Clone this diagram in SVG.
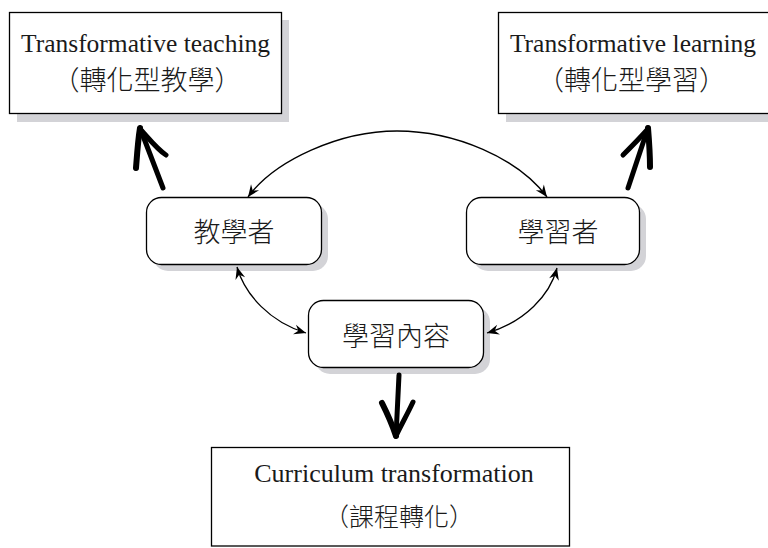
<svg xmlns="http://www.w3.org/2000/svg" width="768" height="548" viewBox="0 0 768 548">
  <style>
    .box { fill: #ffffff; stroke: #000000; stroke-width: 1.3; }
    .shadow { fill: #d3d3d7; stroke: none; }
    .en { font-family: "Liberation Serif", "Times New Roman", serif; font-size: 25.5px; fill: #1a1a1a; text-anchor: middle; }
    .zh { font-family: "Noto Sans CJK TC", "Noto Sans CJK SC", sans-serif; font-size: 27px; font-weight: 300; fill: #1a1a1a; text-anchor: middle; dominant-baseline: central; }
    .thin { fill: none; stroke: #000000; stroke-width: 1.3; marker-start: url(#ah); marker-end: url(#ah); }
    .thick { fill: none; stroke: #000000; stroke-width: 5; stroke-linecap: round; stroke-linejoin: round; }
  </style>
  <defs>
    <marker id="ah" viewBox="-13 -6 14 12" refX="0" refY="0" markerWidth="14" markerHeight="12" markerUnits="userSpaceOnUse" orient="auto-start-reverse">
      <path d="M0,0 L-12,-5 L-8,0 L-12,5 Z" fill="#000000"/>
    </marker>
  </defs>

  <rect width="768" height="548" fill="#ffffff"/>

  <g id="transformative-teaching">
    <rect class="shadow" x="17" y="20" width="272" height="102"/>
    <rect class="box" x="9.5" y="12.5" width="272" height="101"/>
    <text class="en" x="145.5" y="52">Transformative teaching</text>
    <text class="zh" x="147" y="78.5">（轉化型教學）</text>
  </g>

  <g id="transformative-learning">
    <rect class="shadow" x="506" y="20" width="270" height="102"/>
    <rect class="box" x="498.5" y="12.5" width="272" height="101"/>
    <text class="en" x="633" y="52">Transformative learning</text>
    <text class="zh" x="631.5" y="78.5">（轉化型學習）</text>
  </g>

  <g id="teacher">
    <rect class="shadow" x="153" y="204" width="175" height="67" rx="15"/>
    <rect class="box" x="146.5" y="197.5" width="175" height="67" rx="15"/>
    <text class="zh" x="234" y="230">教學者</text>
  </g>

  <g id="learner">
    <rect class="shadow" x="473" y="204" width="173" height="67" rx="15"/>
    <rect class="box" x="466.5" y="197.5" width="173" height="67" rx="15"/>
    <text class="zh" x="558" y="230">學習者</text>
  </g>

  <g id="content">
    <rect class="shadow" x="315" y="307" width="175" height="67" rx="15"/>
    <rect class="box" x="308.5" y="300.5" width="175" height="67" rx="15"/>
    <text class="zh" x="396" y="334">學習內容</text>
  </g>

  <g id="curriculum-transformation">
    <rect class="box" x="211.5" y="447.5" width="358" height="98.5"/>
    <text class="en" x="394" y="482" style="font-size:26px">Curriculum transformation</text>
    <text class="zh" x="399" y="515" style="font-size:25px">（課程轉化）</text>
  </g>

  <g id="connectors">
    <path class="thin" d="M248,197 C275,160 340,131 397,131 C455,131 518,158 547,197"/>
    <path class="thin" d="M237,267 C245,295 270,322 306,333"/>
    <path class="thin" d="M557,268 C550,295 525,322 487,333"/>
    <g>
      <path class="thick" d="M163,188 L140,128"/>
      <path class="thick" d="M140,128 C138,140 137,155 136,168" style="stroke-width:6"/>
      <path class="thick" d="M141,130 C150,140 158,150 166,155"/>
    </g>
    <g>
      <path class="thick" d="M628,188 L648,128"/>
      <path class="thick" d="M648,128 C649,140 650,155 650,167" style="stroke-width:6"/>
      <path class="thick" d="M647,130 C638,140 630,148 623,155"/>
    </g>
    <g>
      <path class="thick" d="M399,375 L396,436"/>
      <path class="thick" d="M382,403 C388,415 393,427 396,436" style="stroke-width:6"/>
      <path class="thick" d="M413,402 C407,415 400,427 396,436"/>
    </g>
  </g>
</svg>
